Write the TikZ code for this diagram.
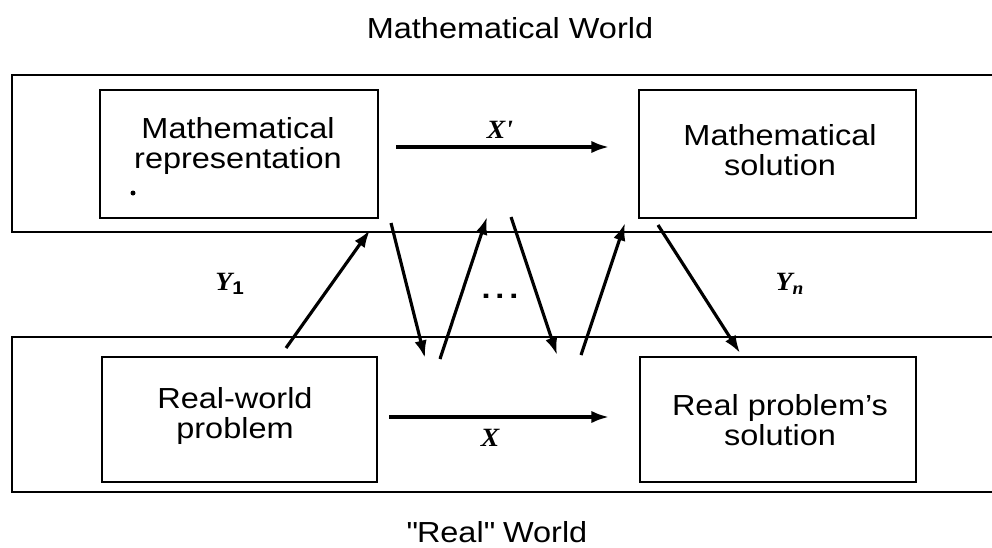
\documentclass[tikz,border=0pt]{standalone}
\usepackage{fontspec}
\setmainfont{Liberation Sans}[FakeStretch=1.12]
\newfontfamily\labfont{Liberation Serif}[FakeStretch=1.05]
\usetikzlibrary{arrows.meta}
\begin{document}
\begin{tikzpicture}[x=0.02cm,y=-0.02cm,
  box/.style={draw,line width=1.5pt,inner sep=0pt},
  world/.style={line width=1.5pt},
  txt/.style={align=center,font=\fontsize{16.5}{16.8}\selectfont,inner sep=0pt},
  lab/.style={font=\labfont\fontsize{15}{16}\selectfont\bfseries\itshape,inner sep=0pt},
  arr/.style={line width=1.8pt,-{Latex[length=10pt,width=7pt]}}]
\useasboundingbox (0,0) rectangle (992,548);
% worlds
\draw[world] (992,75) -- (12,75) -- (12,232) -- (992,232);
\draw[world] (992,337) -- (12,337) -- (12,492) -- (992,492);
\node[txt] (mw) at (510,28) {Mathematical World};
\node[txt] (rw) at (497,532) {\textquotedbl Real\textquotedbl{} World};
% boxes
\node[box,minimum width=5.56cm,minimum height=2.56cm] (mr) at (239,154) {};
\node[box,minimum width=5.54cm,minimum height=2.56cm] (ms) at (777.5,154) {};
\node[box,minimum width=5.5cm,minimum height=2.5cm] (rp) at (239.5,419.5) {};
\node[box,minimum width=5.52cm,minimum height=2.5cm] (rs) at (778,419.5) {};
\node[txt] (mrt) at (238,146) {Mathematical\\representation};
\fill (133,193) circle (2.5);
\node[txt] (mst) at (780,150) {Mathematical\\solution};
\node[txt] (rpt) at (235,416) {Real-world\\problem};
\node[txt] (rst) at (780,420) {Real problem's\\solution};
% horizontal arrows
\coordinate (xa1) at (396,147); \coordinate (xa2) at (609,147);
\draw[arr] (xa1) -- (xa2);
\node[lab] (xp) at (500,130) {X'};
\coordinate (xb1) at (389,417); \coordinate (xb2) at (609,417);
\draw[arr] (xb1) -- (xb2);
\node[lab] (xx) at (490,438) {X};
% zigzag arrows
\coordinate (a1) at (286,348); \coordinate (b1) at (370,230);
\coordinate (a2) at (391,223); \coordinate (b2) at (425,358);
\coordinate (a3) at (440,359); \coordinate (b3) at (487,217);
\coordinate (a4) at (511,217); \coordinate (b4) at (557,355);
\coordinate (a5) at (581,355); \coordinate (b5) at (625,223);
\coordinate (a6) at (658,225); \coordinate (b6) at (740,353);
\draw[arr] (a1) -- (b1);
\draw[arr] (a2) -- (b2);
\draw[arr] (a3) -- (b3);
\draw[arr] (a4) -- (b4);
\draw[arr] (a5) -- (b5);
\draw[arr] (a6) -- (b6);
\node[txt] (dots) at (500,296) {\textbf{.\,.\,.}};
\node[lab] (y1) at (230,284) {Y\textsubscript{\normalfont\bfseries 1}};
\node[lab] (yn) at (790,284) {Y\textsubscript{n}};
\end{tikzpicture}
\end{document}
